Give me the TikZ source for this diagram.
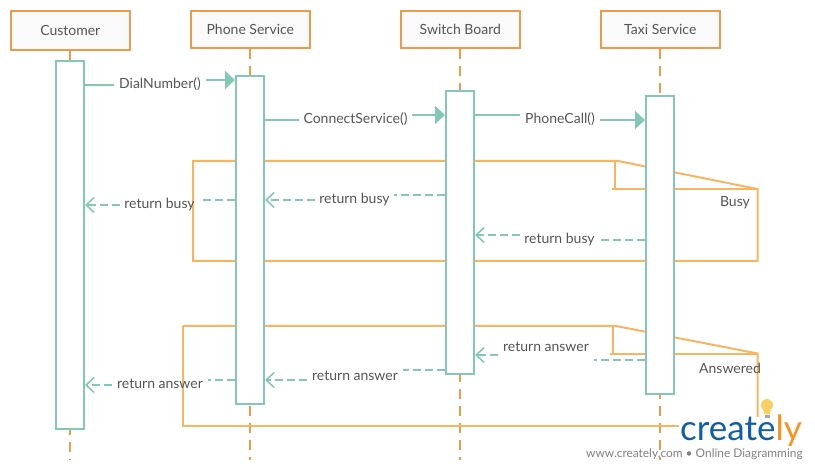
\documentclass[tikz,border=0pt]{standalone}
\usepackage{fontspec}
\setmainfont{Lato}
\usetikzlibrary{arrows.meta,calc}
\definecolor{headc}{HTML}{EE9A4D}
\definecolor{framec}{HTML}{F7B563}
\definecolor{actc}{HTML}{84C7B6}
\definecolor{txtc}{HTML}{555555}
\definecolor{logob}{HTML}{0F5FA8}
\definecolor{logoo}{HTML}{F7941E}
\definecolor{bulbc}{HTML}{F7D064}
\tikzset{
 x=1pt,y=-1pt,
 every node/.style={font=\fontsize{14}{16}\selectfont,text=txtc,inner sep=0pt},
 head/.style={draw=headc,line width=2pt,fill=black!2,minimum width=119pt,minimum height=37pt},
 life/.style={draw=headc,line width=2pt,dash pattern=on 10pt off 7pt},
 act/.style={draw=actc,line width=2pt,fill=white,minimum width=28pt,anchor=north west},
 frameline/.style={draw=framec,line width=2pt,line join=miter},
 seg/.style={draw=actc,line width=2pt},
 msg/.style={seg,-{Triangle[length=10pt,width=18pt]}},
 retseg/.style={seg,dash pattern=on 8pt off 4pt},
 ret/.style={retseg,-{Straight Barb[length=8pt,width=15pt,line width=1.6pt]}},
 lab/.style={inner xsep=4.5pt,inner ysep=3pt}
}
\begin{document}
\begin{tikzpicture}
\useasboundingbox (0,0) rectangle (815,470);
% heads
\node[head,minimum height=39pt] (h1) at (70.3,30.5) {\raisebox{1pt}{Customer}};
\node[head] (h2) at (250.3,29.5) {Phone Service};
\node[head] (h3) at (460.3,29.5) {Switch Board};
\node[head] (h4) at (660.3,29.5) {Taxi Service};
\coordinate (e1) at (70.3,460);
\coordinate (e2) at (250.3,460);
\coordinate (e3) at (460.3,460);
\coordinate (e4) at (660.3,460);
\draw[life] (h1.south) -- (e1);
\draw[life] (h2.south) -- (e2);
\draw[life] (h3.south) -- (e3);
\draw[life] (h4.south) -- (e4);
% frames
\draw[frameline] (193,161) -- (618,161) -- (757.5,189) -- (757.5,261) -- (193,261) -- cycle;
\draw[frameline] (615,161) -- (615,189) -- (612,189) -- (757.5,189);
\draw[frameline] (183,326) -- (616,326) -- (757.5,353.5) -- (757.5,420);
\draw[frameline] (183,326) -- (183,426) -- (680,426);
\draw[frameline] (613,326) -- (613,354) -- (610,354) -- (757.5,354);
% activations
\node[act,minimum height=368pt] (a1) at (55,60) {};
\node[act,minimum height=328pt] (a2) at (235,75) {};
\node[act,minimum height=283pt] (a3) at (445,90) {};
\node[act,minimum height=298pt] (a4) at (645,95) {};
% frame labels
\node (busy) at (735,203) {Busy};
\node (ans) at (730,368) {Answered};
% labels
\node[lab] (m1) at (160,84) {DialNumber()};
\node[lab] (m2) at (355.5,119) {ConnectService()};
\node[lab] (m3) at (560,119) {PhoneCall()};
\node[lab] (r1) at (559.5,239.5) {return busy};
\node[lab] (r2) at (354.5,199.5) {return busy};
\node[lab] (r3) at (159.5,204.5) {return busy};
\node[lab] (r4) at (546,347) {return answer};
\node[lab] (r5) at (355,376) {return answer};
\node[lab] (r6) at (160,384) {return answer};
% calls
\draw[seg] (a1.east |- 0,85) -- (m1.west |- 0,85);
\draw[msg] (m1.east |- 0,80) -- (a2.west |- 0,80);
\draw[seg] (a2.east |- 0,120) -- (m2.west |- 0,120);
\draw[msg] (m2.east |- 0,115) -- (a3.west |- 0,115);
\draw[seg] (a3.east |- 0,115) -- (m3.west |- 0,115);
\draw[msg] (m3.east |- 0,120) -- (a4.west |- 0,120);
% returns
\draw[retseg] (a4.west |- 0,240) -- (r1.east |- 0,240);
\draw[ret] (r1.west |- 0,235) -- (a3.east |- 0,235);
\draw[retseg] (a3.west |- 0,195) -- (r2.east |- 0,195);
\draw[ret] (r2.west |- 0,200) -- (a2.east |- 0,200);
\draw[retseg] (a2.west |- 0,200) -- (r3.east |- 0,200);
\draw[ret] (r3.west |- 0,205) -- (a1.east |- 0,205);
\draw[retseg] (a4.west |- 0,360) -- (r4.east |- 0,360);
\draw[ret] (r4.west |- 0,355) -- (a3.east |- 0,355);
\draw[retseg] (a3.west |- 0,370) -- (r5.east |- 0,370);
\draw[ret] (r5.west |- 0,380) -- (a2.east |- 0,380);
\draw[retseg] (a2.west |- 0,380) -- (r6.east |- 0,380);
\draw[ret] (r6.west |- 0,385) -- (a1.east |- 0,385);
% logo
\fill[white] (679,417) rectangle (806,449);
\node[anchor=base west,font=\fontsize{35}{35}\selectfont,text=logob] (logo) at (680,441) {create\textcolor{logoo}{ly}};
\fill[bulbc] (767,405) circle (6pt);
\fill[bulbc] (763,408) -- (771,408) -- (770,414.5) -- (764,414.5) -- cycle;
\fill[black!35] (764.5,415) rectangle (769.5,418);
\node[anchor=base west,font=\fontsize{11.9}{14}\selectfont,text=black!50] (tag) at (586,458) {www.creately.com • Online Diagramming};
\end{tikzpicture}
\end{document}
